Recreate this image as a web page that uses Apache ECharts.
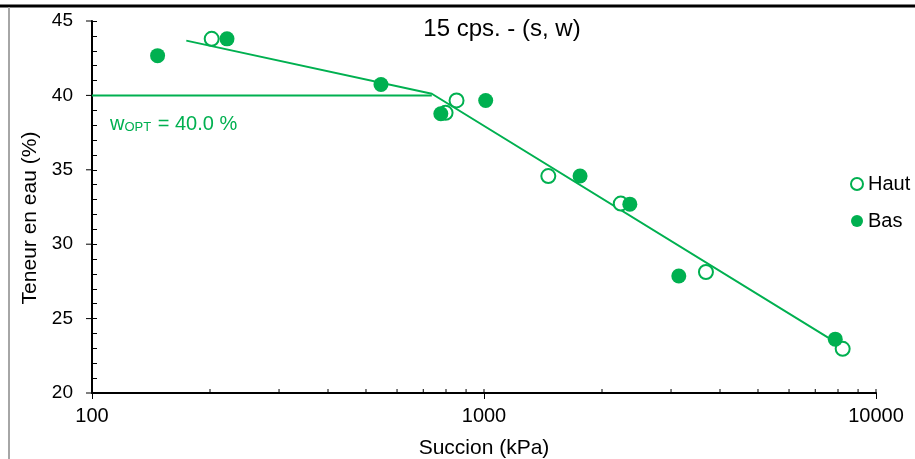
<!DOCTYPE html>
<html><head><meta charset="utf-8">
<script src="https://cdn.jsdelivr.net/npm/echarts@6/dist/echarts.min.js"></script>
<style>html,body{margin:0;padding:0;background:#fff}#c{width:915px;height:459px}</style>
</head><body><div id="c"></div>
<script>
// ---- data ----
const titleText = '15 cps. - (s, w)';
const xName = 'Succion (kPa)';
const yName = 'Teneur en eau (%)';
const hautSuction = [202, 851, 798, 1459, 2233, 3683, 8222];
const hautWater   = [43.8, 39.66, 38.83, 34.58, 32.73, 28.13, 22.97];
const basSuction  = [147, 221, 546, 776, 1010, 1758, 2355, 3140, 7872];
const basWater    = [42.67, 43.8, 40.73, 38.77, 39.66, 34.58, 32.69, 27.86, 23.62];
const fitSuction  = [174, 736, 8090];
const fitWater    = [43.68, 40.11, 23.24];
const wOpt = 40.0;
const wOptSuction = [100, 736];
const xTickVals = [100,200,300,400,500,600,700,800,900,1000,2000,3000,4000,5000,6000,7000,8000,9000,10000];
const yMajorVals = [20,25,30,35,40,45];

const GREEN = '#00B050';
const FONT = '"Liberation Sans", Arial, sans-serif';
const zip = (a, b) => a.map((v, i) => [v, b[i]]);

const chart = echarts.init(document.getElementById('c'), null, {renderer: 'canvas'});
const tickRender = (dx, dy) => (params, api) => {
  const p = api.coord([api.value(0), api.value(1)]);
  return {type: 'line', shape: {x1: p[0], y1: p[1], x2: p[0] + dx, y2: p[1] + dy},
          style: {stroke: '#000', lineWidth: 1}};
};
chart.setOption({
  animation: false,
  textStyle: {fontFamily: FONT},
  grid: {left: 92, right: 39, top: 21, bottom: 66, outerBoundsMode: 'none'},
  xAxis: {
    type: 'log', logBase: 10, min: 100, max: 10000,
    name: xName, nameLocation: 'middle', nameGap: 45,
    nameTextStyle: {fontSize: 21, color: '#000', fontFamily: FONT},
    axisLine: {lineStyle: {color: '#000', width: 2}},
    axisTick: {show: true, inside: false, length: 6, lineStyle: {color: '#000', width: 1}},
    minorTick: {show: false},
    axisLabel: {fontSize: 20, color: '#000', margin: 13, fontFamily: FONT,
                formatter: v => String(Math.round(v))},
    splitLine: {show: false}
  },
  yAxis: {
    type: 'value', min: 20, max: 45, interval: 5,
    name: yName, nameLocation: 'middle', nameGap: 49, nameRotate: 90,
    nameTextStyle: {fontSize: 21, color: '#000', fontFamily: FONT, padding: [0, 22, 0, 0]},
    axisLine: {lineStyle: {color: '#000', width: 2}},
    axisTick: {show: true, inside: true, length: 5, lineStyle: {color: '#000', width: 1}},
    minorTick: {show: true, splitNumber: 5, length: 5, lineStyle: {color: '#000', width: 1}},
    axisLabel: {fontSize: 19, color: '#000', margin: 19, fontFamily: FONT},
    splitLine: {show: false}
  },
  legend: {
    data: ['Haut', 'Bas'], orient: 'vertical', left: 845, top: 169,
    itemWidth: 12, itemHeight: 12, itemGap: 17, icon: 'circle',
    textStyle: {fontSize: 20, color: '#000', fontFamily: FONT}
  },
  graphic: [
    {type: 'line', shape: {x1: 0, y1: 6, x2: 915, y2: 6}, style: {stroke: '#000', lineWidth: 3}, silent: true},
    {type: 'line', shape: {x1: 9, y1: 7, x2: 9, y2: 459}, style: {stroke: '#a6a6a6', lineWidth: 2}, silent: true},
    {type: 'text', x: 502, y: 29, silent: true,
     style: {text: titleText, fontSize: 24, fontFamily: FONT, fill: '#000', align: 'center', verticalAlign: 'middle'}},
    {type: 'text', x: 110, y: 122, silent: true,
     style: {text: '{b|w}{s|OPT}{b| = ' + wOpt.toFixed(1) + ' %}', verticalAlign: 'middle', align: 'left',
       rich: {b: {fontSize: 20, fill: GREEN, color: GREEN, fontFamily: FONT, lineHeight: 24, verticalAlign: 'bottom'},
              s: {fontSize: 13, fill: GREEN, color: GREEN, fontFamily: FONT, lineHeight: 24, verticalAlign: 'bottom', padding: [0, 1, 0, 0]}}}}
  ],
  series: [
    {name: 'wopt', type: 'line', data: zip(wOptSuction, [wOpt, wOpt]), showSymbol: false, silent: true,
     lineStyle: {color: GREEN, width: 2}, z: 2},
    {name: 'fit', type: 'line', data: zip(fitSuction, fitWater), showSymbol: false, silent: true,
     lineStyle: {color: GREEN, width: 2}, z: 2},
    {name: 'Haut', type: 'scatter', data: zip(hautSuction, hautWater), symbol: 'circle', symbolSize: 14,
     itemStyle: {color: '#fff', borderColor: GREEN, borderWidth: 2, opacity: 1}, z: 3},
    {name: 'Bas', type: 'scatter', data: zip(basSuction, basWater), symbol: 'circle', symbolSize: 15,
     itemStyle: {color: GREEN, opacity: 1}, z: 4},
    {name: 'xticks', type: 'custom', silent: true, clip: false, z: 5,
     data: xTickVals.map(v => [v, 20]), renderItem: tickRender(0, -4)},
    {name: 'yticks', type: 'custom', silent: true, clip: false, z: 5,
     data: yMajorVals.map(v => [100, v]), renderItem: tickRender(-6, 0)}
  ]
});
</script>
</body></html>
